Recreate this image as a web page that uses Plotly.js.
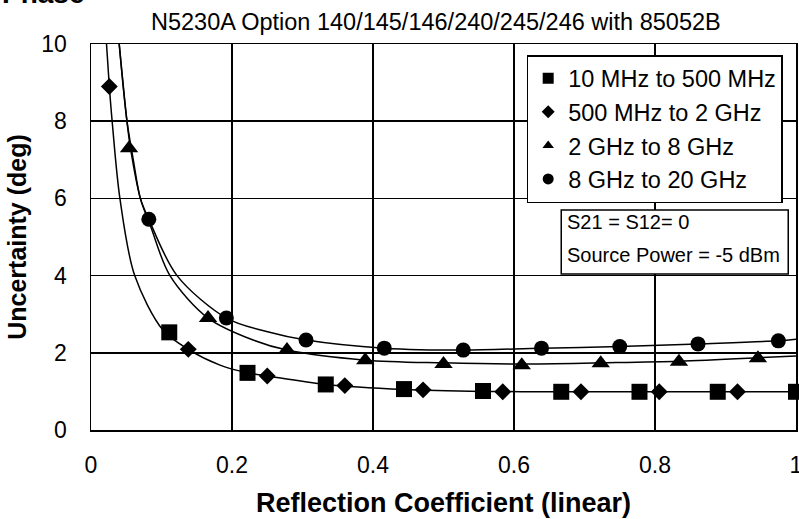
<!DOCTYPE html>
<html>
<head>
<meta charset="utf-8">
<script src="https://cdn.plot.ly/plotly-3.0.1.min.js"></script>
<style>html,body{margin:0;padding:0;background:#fff;}#chart{width:799px;height:519px;}</style>
</head>
<body>
<div id="chart"></div>
<script>
// Series names
var seriesNames = ["10 MHz to 500 MHz", "500 MHz to 2 GHz", "2 GHz to 8 GHz", "8 GHz to 20 GHz"];

// Marker points
var xSquare   = [0.111, 0.222, 0.333, 0.444, 0.556, 0.667, 0.778, 0.889, 1.0];
var ySquare   = [2.53, 1.48, 1.18, 1.06, 1.01, 0.99, 0.99, 0.99, 0.99];
var xDiamond  = [0.026, 0.138, 0.250, 0.360, 0.471, 0.584, 0.695, 0.806, 0.917];
var yDiamond  = [8.9, 2.09, 1.40, 1.15, 1.04, 0.99, 0.99, 0.99, 0.99];
var xTriangle = [0.054, 0.166, 0.278, 0.389, 0.500, 0.611, 0.723, 0.834, 0.946];
var yTriangle = [7.3, 2.9, 2.07, 1.81, 1.71, 1.68, 1.73, 1.77, 1.86];
var xCircle   = [0.082, 0.192, 0.305, 0.416, 0.528, 0.639, 0.750, 0.861, 0.975];
var yCircle   = [5.46, 2.9, 2.33, 2.12, 2.07, 2.12, 2.16, 2.23, 2.31];

// Fitted curves
var xFitLow = [0.022, 0.026, 0.030, 0.041, 0.062, 0.102, 0.138, 0.183, 0.222, 0.250, 0.333, 0.444, 0.556, 0.667, 0.778, 0.889, 1.0];
var yFitLow = [10, 8.9, 8, 6, 4, 2.59, 2.09, 1.68, 1.48, 1.40, 1.18, 1.05, 1.0, 0.99, 0.99, 0.99, 0.99];
var xFitTri = [0.040, 0.051, 0.056, 0.070, 0.085, 0.112, 0.166, 0.230, 0.278, 0.389, 0.500, 0.611, 0.723, 0.834, 0.946, 1.0];
var yFitTri = [10, 8, 7.3, 6, 5.25, 4, 2.9, 2.33, 2.07, 1.81, 1.74, 1.71, 1.74, 1.78, 1.87, 1.92];
var xFitCir = [0.040, 0.051, 0.060, 0.070, 0.082, 0.122, 0.192, 0.249, 0.305, 0.416, 0.528, 0.639, 0.750, 0.861, 0.975, 1.0];
var yFitCir = [10, 8, 7, 6, 5.46, 4, 2.9, 2.55, 2.33, 2.12, 2.07, 2.12, 2.16, 2.23, 2.31, 2.35];

// Axis ticks
var xTicks = [0, 0.2, 0.4, 0.6, 0.8, 1];
var xTickText = ["0", "0.2", "0.4", "0.6", "0.8", "1"];
var yTicks = [0, 2, 4, 6, 8, 10];
var yTickText = ["0", "2", "4", "6", "8", "10"];

var FONT = "Liberation Sans, Arial, sans-serif";
var lineStyle = {color: "black", width: 1.5, shape: "spline", smoothing: 0.9};

function fit(x, y) {
  return {x: x, y: y, type: "scatter", mode: "lines", line: lineStyle, showlegend: false, hoverinfo: "skip"};
}
function pts(x, y, sym, size) {
  return {x: x, y: y, type: "scatter", mode: "markers", marker: {symbol: sym, size: size, color: "black"}, showlegend: false, cliponaxis: false};
}
function leg(name, sym, size) {
  return {x: [null], y: [null], type: "scatter", mode: "markers", name: name, marker: {symbol: sym, size: size, color: "black"}, showlegend: true};
}

var data = [
  fit(xFitLow, yFitLow), fit(xFitTri, yFitTri), fit(xFitCir, yFitCir),
  pts(xSquare, ySquare, "square", 16),
  pts(xDiamond, yDiamond, "diamond", 13),
  pts(xTriangle, yTriangle, "triangle-up", 16),
  pts(xCircle, yCircle, "circle", 15),
  leg(seriesNames[0], "square", 11),
  leg(seriesNames[1], "diamond", 10),
  leg(seriesNames[2], "triangle-up", 10),
  leg(seriesNames[3], "circle", 11)
];

var layout = {
  width: 799, height: 519,
  margin: {l: 91, r: 3, t: 44, b: 89},
  paper_bgcolor: "white", plot_bgcolor: "white",
  font: {family: FONT, color: "black", size: 22},
  xaxis: {
    range: [0, 1], tickvals: xTicks, ticktext: xTickText,
    showgrid: true, gridcolor: "black", gridwidth: 1.5, zeroline: false,
    showline: true, mirror: true, linecolor: "black", linewidth: 1.5,
    ticks: "", tickfont: {size: 23, family: FONT}, ticklabelstandoff: 14, ticklabeloverflow: "allow",
    title: {text: "Reflection Coefficient (linear)", font: {size: 27, family: FONT, weight: "bold"}, standoff: 16}
  },
  yaxis: {
    range: [0, 10], tickvals: yTicks, ticktext: yTickText,
    showgrid: true, gridcolor: "black", gridwidth: 1.5, zeroline: false,
    showline: true, mirror: true, linecolor: "black", linewidth: 1.5,
    ticks: "", tickfont: {size: 23, family: FONT}, ticklabelstandoff: 18,
    title: {text: "Uncertainty (deg)", font: {size: 25, family: FONT, weight: "bold"}, standoff: 7}
  },
  showlegend: true,
  legend: {
    x: 0.618, y: 0.9715, xanchor: "left", yanchor: "top",
    bgcolor: "white", bordercolor: "black", borderwidth: 1.5,
    font: {size: 23.5, family: FONT}
  },
  shapes: [
    {type: "rect", xref: "paper", yref: "paper", x0: 0.667, x1: 0.989, y0: 0.404, y1: 0.570,
     fillcolor: "white", line: {color: "black", width: 1.5}, layer: "above"}
  ],
  annotations: [
    {text: "Phase", xref: "paper", yref: "paper", x: -0.129, y: 1.085, xanchor: "left", yanchor: "bottom",
     showarrow: false, font: {size: 28, family: FONT, weight: "bold"}},
    {text: "N5230A Option 140/145/146/240/245/246 with 85052B", xref: "paper", yref: "paper",
     x: 0.489, y: 1.057, xanchor: "center", yanchor: "middle", showarrow: false, font: {size: 23.5, family: FONT}},
    {text: "S21 = S12= 0", xref: "paper", yref: "paper", x: 0.672, y: 0.539, xanchor: "left", yanchor: "middle",
     showarrow: false, font: {size: 20, family: FONT}},
    {text: "Source Power = -5 dBm", xref: "paper", yref: "paper", x: 0.672, y: 0.453, xanchor: "left", yanchor: "middle",
     showarrow: false, font: {size: 20, family: FONT}}
  ]
};

Plotly.newPlot("chart", data, layout, {displayModeBar: false, staticPlot: true});
</script>
</body>
</html>
